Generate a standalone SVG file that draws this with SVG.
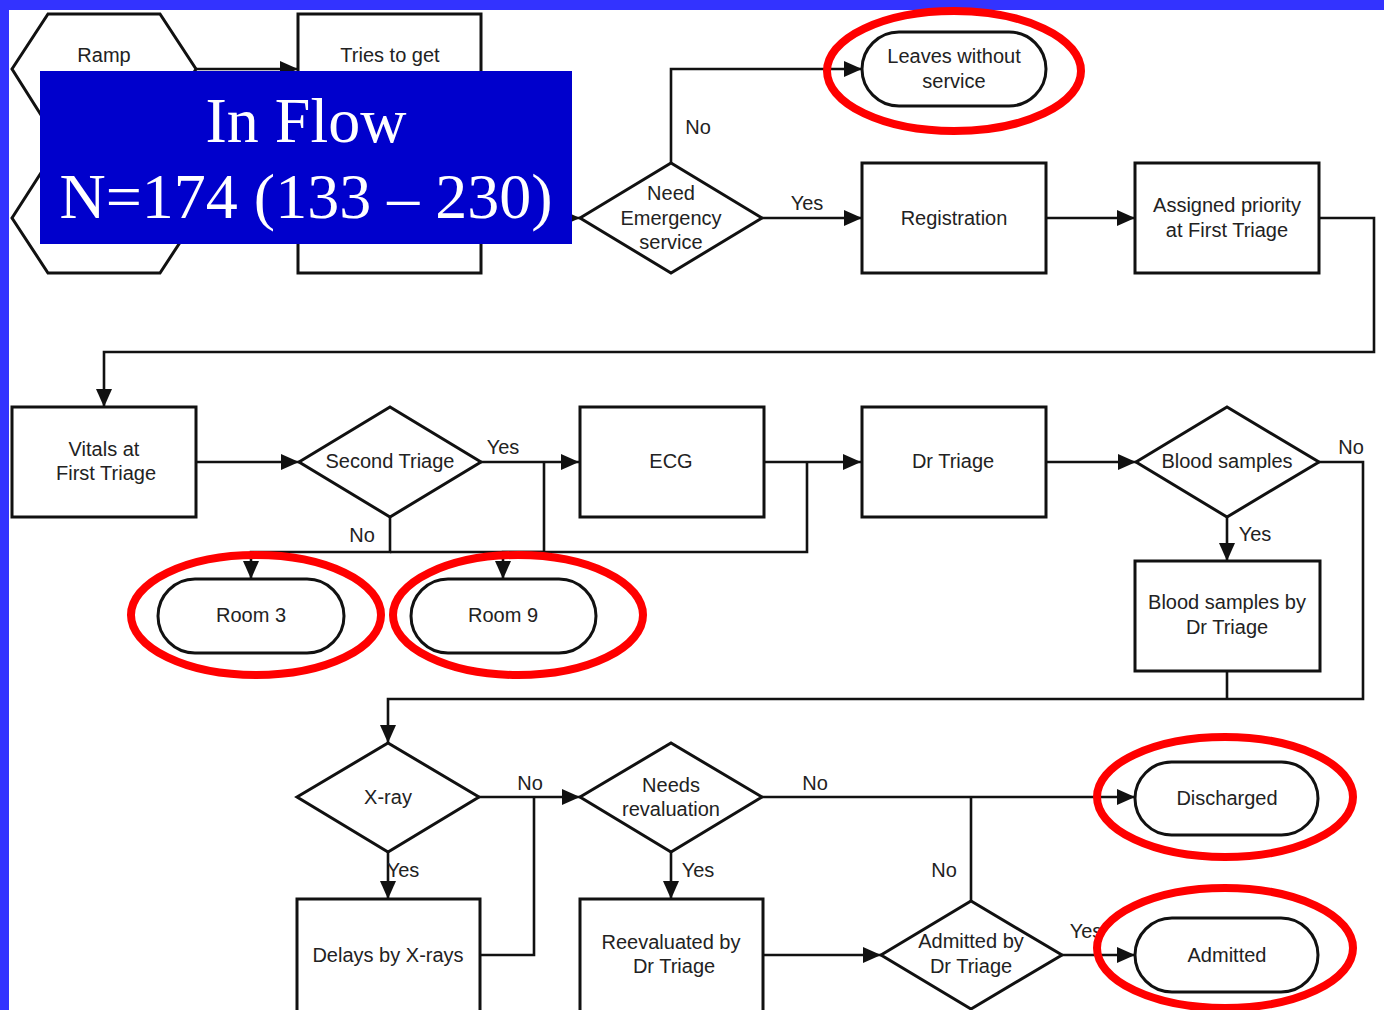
<svg xmlns="http://www.w3.org/2000/svg" width="1384" height="1010" viewBox="0 0 1384 1010">
<defs>
<style>
.shape{fill:#fff;stroke:#111;stroke-width:3}
.conn{fill:none;stroke:#111;stroke-width:2.6}
.t{font-family:"Liberation Sans",Arial,sans-serif;font-size:20px;fill:#222;text-anchor:middle}
.lbl{font-family:"Liberation Sans",Arial,sans-serif;font-size:20px;fill:#222;text-anchor:middle}
.hl{fill:none;stroke:#ff0000;stroke-width:8}
.big{font-family:"Liberation Serif","Times New Roman",serif;font-size:64px;fill:#fff;text-anchor:middle}
</style>
<marker id="arr" markerUnits="userSpaceOnUse" markerWidth="18" markerHeight="16" refX="18" refY="8" orient="auto">
<path d="M0,0 L18,8 L0,16 z" fill="#111"/>
</marker>
</defs>
<rect x="0" y="0" width="1384" height="1010" fill="#3333ff"/>
<rect x="9" y="10" width="1375" height="1000" fill="#fff"/>

<g id="connectors" class="conn">
<path d="M196,69 H298" marker-end="url(#arr)"/>
<path d="M196,218 H298" marker-end="url(#arr)"/>
<path d="M481,218 H580" marker-end="url(#arr)"/>
<path d="M671,163 V69 H862" marker-end="url(#arr)"/>
<path d="M762,218 H862" marker-end="url(#arr)"/>
<path d="M1046,218 H1135" marker-end="url(#arr)"/>
<path d="M1319,218 H1374 V352 H104 V407" marker-end="url(#arr)"/>
<path d="M196,462 H299" marker-end="url(#arr)"/>
<path d="M481,462 H579" marker-end="url(#arr)"/>
<path d="M544,462 V552 H503 V579" marker-end="url(#arr)"/>
<path d="M390,517 V552 H251 V579" marker-end="url(#arr)"/>
<path d="M390,552 H503"/>
<path d="M764,462 H861" marker-end="url(#arr)"/>
<path d="M807,462 V552 H503"/>
<path d="M1046,462 H1136" marker-end="url(#arr)"/>
<path d="M1227,517 V561" marker-end="url(#arr)"/>
<path d="M1319,462 H1363 V699 H388 V743" marker-end="url(#arr)"/>
<path d="M1227,671 V699"/>
<path d="M479,797 H580" marker-end="url(#arr)"/>
<path d="M388,852 V899" marker-end="url(#arr)"/>
<path d="M480,955 H534 V797"/>
<path d="M762,797 H1135" marker-end="url(#arr)"/>
<path d="M671,852 V899" marker-end="url(#arr)"/>
<path d="M763,955 H881" marker-end="url(#arr)"/>
<path d="M971,901 V797"/>
<path d="M1062,955 H1135" marker-end="url(#arr)"/>
</g>

<g id="labels">
<text class="lbl" x="698" y="134">No</text>
<text class="lbl" x="807" y="210">Yes</text>
<text class="lbl" x="503" y="454">Yes</text>
<text class="lbl" x="362" y="542">No</text>
<text class="lbl" x="1351" y="454">No</text>
<text class="lbl" x="1255" y="541">Yes</text>
<text class="lbl" x="530" y="790">No</text>
<text class="lbl" x="815" y="790">No</text>
<text class="lbl" x="403" y="877">Yes</text>
<text class="lbl" x="698" y="877">Yes</text>
<text class="lbl" x="944" y="877">No</text>
<text class="lbl" x="1086" y="938">Yes</text>
</g>

<g id="node-ramp"><polygon class="shape" points="12,69 48,14 160,14 196,69 160,126 48,126"/><text class="t" x="104" y="62">Ramp</text></g>
<g id="node-hex2"><polygon class="shape" points="12,218 48,162 160,162 196,218 160,273 48,273"/></g>
<g id="node-tries"><rect class="shape" x="298" y="14" width="183" height="112"/><text class="t" x="390" y="62">Tries to get</text></g>
<g id="node-box2"><rect class="shape" x="298" y="162" width="183" height="111"/></g>
<g id="node-need"><polygon class="shape" points="580,218 671,163 762,218 671,273"/><text class="t" x="671" y="200">Need</text><text class="t" x="671" y="225">Emergency</text><text class="t" x="671" y="249">service</text></g>
<g id="node-leaves"><rect class="shape" x="862" y="32" width="184" height="74" rx="37"/><text class="t" x="954" y="63">Leaves without</text><text class="t" x="954" y="88">service</text></g>
<g id="node-registration"><rect class="shape" x="862" y="163" width="184" height="110"/><text class="t" x="954" y="225">Registration</text></g>
<g id="node-assigned"><rect class="shape" x="1135" y="163" width="184" height="110"/><text class="t" x="1227" y="212">Assigned priority</text><text class="t" x="1227" y="237">at First Triage</text></g>
<g id="node-vitals"><rect class="shape" x="12" y="407" width="184" height="110"/><text class="t" x="104" y="456">Vitals at</text><text class="t" x="106" y="480">First Triage</text></g>
<g id="node-second"><polygon class="shape" points="299,462 390,407 481,462 390,517"/><text class="t" x="390" y="468">Second Triage</text></g>
<g id="node-ecg"><rect class="shape" x="580" y="407" width="184" height="110"/><text class="t" x="671" y="468">ECG</text></g>
<g id="node-drtriage"><rect class="shape" x="862" y="407" width="184" height="110"/><text class="t" x="953" y="468">Dr Triage</text></g>
<g id="node-blood"><polygon class="shape" points="1136,462 1227,407 1319,462 1227,517"/><text class="t" x="1227" y="468">Blood samples</text></g>
<g id="node-room3"><rect class="shape" x="158" y="579" width="186" height="74" rx="37"/><text class="t" x="251" y="622">Room 3</text></g>
<g id="node-room9"><rect class="shape" x="411" y="579" width="185" height="74" rx="37"/><text class="t" x="503" y="622">Room 9</text></g>
<g id="node-bloodby"><rect class="shape" x="1135" y="561" width="185" height="110"/><text class="t" x="1227" y="609">Blood samples by</text><text class="t" x="1227" y="634">Dr Triage</text></g>
<g id="node-xray"><polygon class="shape" points="297,797 388,743 479,797 388,852"/><text class="t" x="388" y="804">X-ray</text></g>
<g id="node-needs"><polygon class="shape" points="580,797 671,743 762,797 671,852"/><text class="t" x="671" y="792">Needs</text><text class="t" x="671" y="816">revaluation</text></g>
<g id="node-discharged"><rect class="shape" x="1135" y="762" width="183" height="73" rx="36.5"/><text class="t" x="1227" y="805">Discharged</text></g>
<g id="node-delays"><rect class="shape" x="297" y="899" width="183" height="125"/><text class="t" x="388" y="962">Delays by X-rays</text></g>
<g id="node-reevaluated"><rect class="shape" x="580" y="899" width="183" height="125"/><text class="t" x="671" y="949">Reevaluated by</text><text class="t" x="674" y="973">Dr Triage</text></g>
<g id="node-admittedby"><polygon class="shape" points="881,955 971,901 1062,955 971,1009"/><text class="t" x="971" y="948">Admitted by</text><text class="t" x="971" y="973">Dr Triage</text></g>
<g id="node-admitted"><rect class="shape" x="1135" y="918" width="183" height="74" rx="37"/><text class="t" x="1227" y="962">Admitted</text></g>

<g id="highlights" class="hl">
<ellipse cx="954" cy="71" rx="127" ry="60"/>
<ellipse cx="256" cy="615" rx="125" ry="60"/>
<ellipse cx="518" cy="615" rx="125" ry="60"/>
<ellipse cx="1225" cy="797" rx="128" ry="60"/>
<ellipse cx="1225" cy="948" rx="128" ry="60"/>
</g>

<g id="title-box">
<rect x="40" y="71" width="532" height="173" fill="#0000cc"/>
<text class="big" x="306" y="142">In Flow</text>
<text class="big" x="306" y="218">N=174 (133 – 230)</text>
</g>
</svg>
